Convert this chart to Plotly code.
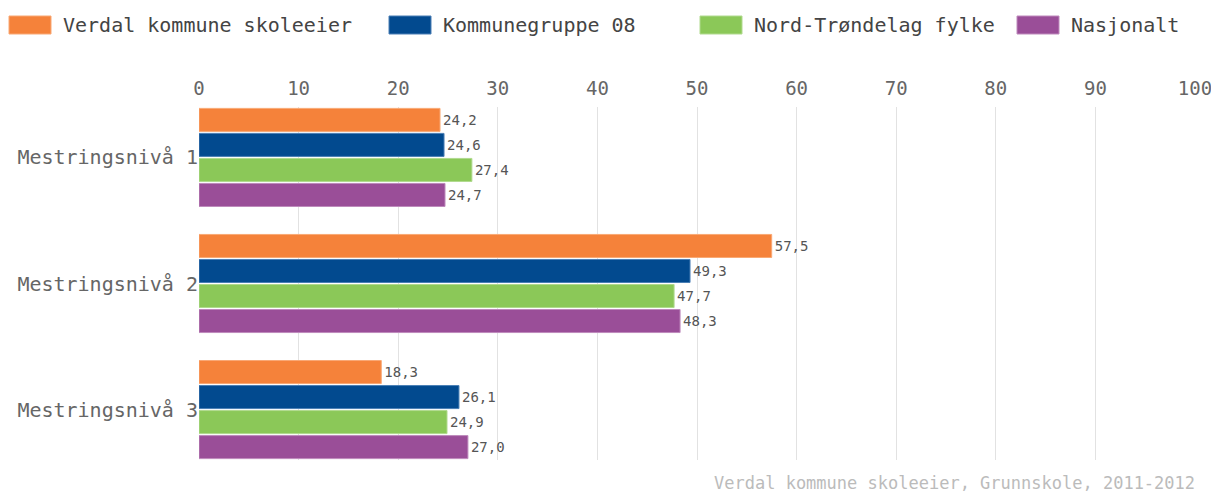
import plotly.graph_objects as go

categories = ["Mestringsnivå 1", "Mestringsnivå 2", "Mestringsnivå 3"]
series_names = ["Verdal kommune skoleeier", "Kommunegruppe 08", "Nord-Trøndelag fylke", "Nasjonalt"]
verdal = [24.2, 57.5, 18.3]
kommunegruppe = [24.6, 49.3, 26.1]
nord_trondelag = [27.4, 47.7, 24.9]
nasjonalt = [24.7, 48.3, 27.0]
x_ticks = [0, 10, 20, 30, 40, 50, 60, 70, 80, 90, 100]
source_text = "Verdal kommune skoleeier, Grunnskole, 2011-2012"

series_values = [verdal, kommunegruppe, nord_trondelag, nasjonalt]
colors = ["#F5823A", "#024A8F", "#8BC858", "#9A4E98"]
edge_colors = ["#F9A874", "#4A7FB5", "#B0DA8E", "#BE8ABC"]

FONT = "DejaVu Sans Mono"
OFF = 8  # page body margin offset
W, H = 1219 - OFF, 495 - OFF
L, R, T, B = 199 - OFF, 24, 107 - OFF, 35
PW, PH = W - L - R, H - T - B


def px_x(px):
    return (px - OFF - L) / PW


def px_y(py):
    return (H - B - (py - OFF)) / PH


fig = go.Figure()
for name, vals, col, edge in zip(series_names, series_values, colors, edge_colors):
    fig.add_trace(go.Bar(
        y=categories, x=vals, name=name, orientation="h",
        marker=dict(color=col, line=dict(color=edge, width=1)),
        texttemplate="%{x:.1f}", textposition="outside",
        textfont=dict(family=FONT, size=14, color="#555555"),
        cliponaxis=False, showlegend=False,
    ))

# legend drawn as rectangles + labels
legend_x = [9, 389, 700, 1017]
shapes = []
annotations = []
for lx, name, col, edge in zip(legend_x, series_names, colors, edge_colors):
    shapes.append(dict(type="rect", xref="paper", yref="paper",
                       x0=px_x(lx), x1=px_x(lx + 42), y0=px_y(34), y1=px_y(16),
                       fillcolor=col, line=dict(color=edge, width=1)))
    annotations.append(dict(xref="paper", yref="paper", x=px_x(lx + 52), y=px_y(25),
                            text=name, showarrow=False, xanchor="left", yanchor="middle",
                            font=dict(family=FONT, size=20, color="#444444")))

annotations.append(dict(xref="paper", yref="paper", x=px_x(1197), y=px_y(483),
                        text=source_text, showarrow=False, xanchor="right", yanchor="middle",
                        font=dict(family=FONT, size=17, color="#BBBBBB")))

fig.update_layout(
    width=W, height=H,
    margin=dict(l=L, r=R, t=T, b=B, autoexpand=False),
    paper_bgcolor="white", plot_bgcolor="white",
    barmode="group", bargap=0.206, bargroupgap=0.08,
    separators=", ",
    shapes=shapes, annotations=annotations,
    xaxis=dict(range=[0, 100], side="top", tickvals=x_ticks, ticktext=[str(t) for t in x_ticks],
               showgrid=True, gridcolor="#E2E2E2", gridwidth=1, zeroline=False, showline=False,
               ticks="outside", ticklen=3, tickcolor="rgba(0,0,0,0)",
               tickfont=dict(family=FONT, size=19, color="#666666")),
    yaxis=dict(type="category", categoryorder="array", categoryarray=categories,
               range=[2.4, -0.4], showgrid=False, zeroline=False, showline=False,
               ticks="", ticklen=0,
               tickfont=dict(family=FONT, size=20, color="#666666")),
    font=dict(family=FONT),
)

fig.write_html("out.html")
